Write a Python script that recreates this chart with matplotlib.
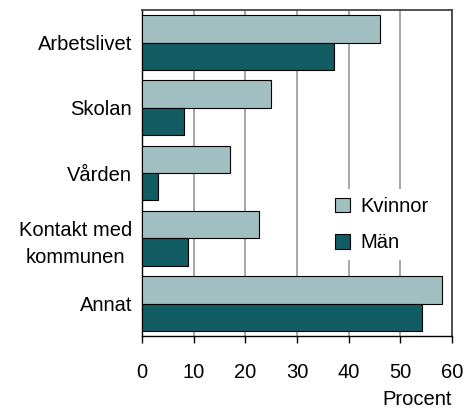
import matplotlib.pyplot as plt
import numpy as np

plt.rcParams['font.family'] = ['Liberation Sans', 'DejaVu Sans']

# data
categories = ['Arbetslivet', 'Skolan', 'Vården', 'Kontakt med\nkommunen', 'Annat']
kvinnor = [46, 25, 17, 22.7, 58.1]
man = [37.1, 8.1, 3.2, 9, 54.1]
xticks = [0, 10, 20, 30, 40, 50, 60]

light = '#a1bfc1'
dark = '#125c64'
fs = 14.5

fig = plt.figure(figsize=(4.7, 4.12), dpi=100)
ax = fig.add_axes([0.302, 0.184, 0.660, 0.792])

y = np.arange(len(categories))
h = 0.42
ax.barh(y - h / 2, kvinnor, height=h, color=light, edgecolor='black', linewidth=0.8,
        label='Kvinnor', zorder=3)
ax.barh(y + h / 2, man, height=h, color=dark, edgecolor='black', linewidth=0.8,
        label='Män', zorder=3)

ax.set_ylim(len(categories) - 0.5, -0.5)
ax.set_xlim(0, 60)
ax.set_xticks(xticks)
ax.set_yticks(y)
ax.set_yticklabels(categories, multialignment='center', linespacing=1.5)
ax.tick_params(axis='y', length=0, pad=7, labelsize=fs)
ax.tick_params(axis='x', length=5, width=1, pad=14, labelsize=fs, direction='out')
ax.xaxis.grid(True, color='#a0a0a0', linewidth=1.3, zorder=0)

for side in ['left', 'bottom']:
    ax.spines[side].set_color('black')
    ax.spines[side].set_linewidth(1)
for side in ['top', 'right']:
    ax.spines[side].set_color('#444444')
    ax.spines[side].set_linewidth(1.3)

ax.set_xlabel('Procent', fontsize=fs, loc='right', labelpad=6)

leg = ax.legend(loc='center left', bbox_to_anchor=(0.565, 0.342), frameon=True,
                fontsize=fs, handlelength=0.75, handleheight=0.75,
                handletextpad=0.5, labelspacing=0.85, borderpad=0.4)
leg.get_frame().set_facecolor('white')
leg.get_frame().set_edgecolor('none')
leg.get_frame().set_alpha(1)
leg.set_zorder(5)

fig.savefig('out.png', dpi=100)
